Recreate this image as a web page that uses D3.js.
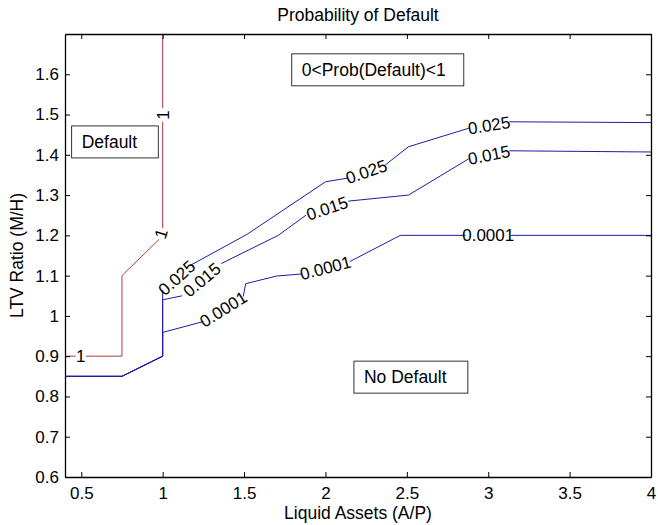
<!DOCTYPE html>
<html>
<head>
<meta charset="utf-8">
<script src="https://cdn.jsdelivr.net/npm/d3@7"></script>
<style>
  body { margin: 0; background: #fff; }
  svg text { font-family: "Liberation Sans", Arial, Helvetica, sans-serif; fill: #000; }
</style>
</head>
<body>
<svg id="chart" width="658" height="525"></svg>
<script>
// tick values
const xTicks = [0.5, 1, 1.5, 2, 2.5, 3, 3.5, 4];
const yTicks = [0.6, 0.7, 0.8, 0.9, 1, 1.1, 1.2, 1.3, 1.4, 1.5, 1.6];

// contour lines, each split into pieces; a label sits in every gap between pieces
const contour1 = [
    [[0.4, 0.9], [0.466, 0.9]],
    [[0.528, 0.9], [0.75, 0.9], [0.75, 1.1], [0.978, 1.19]],
    [[1.0, 1.218], [1.0, 1.482]],
    [[1.0, 1.516], [1.0, 1.7]]
];
const contour025 = [
    [[0.4, 0.85], [0.75, 0.85], [1.0, 0.9], [1.0, 1.064]],
    [[1.172, 1.126], [1.52, 1.203], [2.0, 1.333], [2.133, 1.342]],
    [[2.368, 1.375], [2.51, 1.42], [2.88, 1.466]],
    [[3.13, 1.482], [4.0, 1.48]]
];
const contour015 = [
    [[0.4, 0.85], [0.75, 0.85], [1.0, 0.9], [1.0, 1.04], [1.12, 1.05]],
    [[1.36, 1.13], [1.71, 1.2], [1.88, 1.25]],
    [[2.14, 1.285], [2.51, 1.3], [2.88, 1.39]],
    [[3.13, 1.41], [4.0, 1.407]]
];
const contour0001 = [
    [[0.4, 0.85], [0.75, 0.85], [1.0, 0.9], [1.0, 0.959], [1.25, 0.986]],
    [[1.495, 1.048], [1.51, 1.08], [1.7, 1.099], [1.85, 1.104]],
    [[2.15, 1.135], [2.46, 1.2], [2.86, 1.2]],
    [[3.14, 1.2], [4.0, 1.2]]
];
const contours = [
    { level: "1", pieces: contour1, color: "#b03a3a" },
    { level: "0.025", pieces: contour025, color: "#1c1ca6" },
    { level: "0.015", pieces: contour015, color: "#1c1ca6" },
    { level: "0.0001", pieces: contour0001, color: "#1c1ca6" }
];

// region annotations: [text, box left, box right, middle] in data units
const notes = [
    ["Default", 0.441, 0.973, 1.432],
    ["0<Prob(Default)<1", 1.793, 2.85, 1.611],
    ["No Default", 2.175, 2.875, 0.848]
];

const svg = d3.select("#chart");
const mLeft = 65, mRight = 651, mTop = 34, mBottom = 477;

const x = d3.scaleLinear().domain([0.4, 4]).range([mLeft, mRight]);
const y = d3.scaleLinear().domain([0.6, 1.7]).range([mBottom, mTop]);

const line = d3.line().x(d => x(d[0])).y(d => y(d[1]));

const plot = svg.append("g");

contours.forEach(c => {
    plot.selectAll(null)
        .data(c.pieces)
        .join("path")
        .attr("d", line)
        .attr("fill", "none")
        .attr("stroke", c.color)
        .attr("stroke-width", 1);

    // labels in the gaps
    for (let i = 0; i < c.pieces.length - 1; i++) {
        const a = c.pieces[i][c.pieces[i].length - 1];
        const b = c.pieces[i + 1][0];
        const ax = x(a[0]), ay = y(a[1]), bx = x(b[0]), by = y(b[1]);
        let ang = Math.atan2(by - ay, bx - ax) * 180 / Math.PI;
        if (ang > 90) ang -= 180;
        if (ang < -90) ang += 180;
        plot.append("text")
            .attr("transform", `translate(${(ax + bx) / 2},${(ay + by) / 2}) rotate(${ang})`)
            .attr("text-anchor", "middle")
            .attr("dy", "0.36em")
            .attr("font-size", 17)
            .text(c.level);
    }
});

// axes, ticks pointing inward on all four sides
const fmt = d => String(d);
svg.append("g")
    .attr("transform", `translate(0,${mBottom})`)
    .call(d3.axisBottom(x).tickValues(xTicks).tickFormat(fmt).tickSizeInner(-5).tickSizeOuter(0).tickPadding(10));
svg.append("g")
    .attr("transform", `translate(0,${mTop})`)
    .call(d3.axisTop(x).tickValues(xTicks).tickFormat("").tickSizeInner(-5).tickSizeOuter(0));
svg.append("g")
    .attr("transform", `translate(${mLeft},0)`)
    .call(d3.axisLeft(y).tickValues(yTicks).tickFormat(fmt).tickSizeInner(-5).tickSizeOuter(0).tickPadding(6));
svg.append("g")
    .attr("transform", `translate(${mRight},0)`)
    .call(d3.axisRight(y).tickValues(yTicks).tickFormat("").tickSizeInner(-5).tickSizeOuter(0));

svg.selectAll(".domain").attr("stroke", "#000").attr("stroke-width", 1.3);
svg.selectAll(".tick line").attr("stroke", "#000");
svg.selectAll(".tick text").attr("font-size", 17).attr("font-family", null);

// annotation boxes
notes.forEach(([label, x0, x1, ym]) => {
    svg.append("rect")
        .attr("x", x(x0))
        .attr("y", y(ym) - 16)
        .attr("width", x(x1) - x(x0))
        .attr("height", 32)
        .attr("fill", "#fff")
        .attr("stroke", "#000")
        .attr("stroke-width", 0.8);
    svg.append("text")
        .attr("x", x(x0) + 10)
        .attr("y", y(ym))
        .attr("dy", "0.36em")
        .attr("font-size", 17.5)
        .text(label);
});

// titles
svg.append("text")
    .attr("x", (mLeft + mRight) / 2)
    .attr("y", 21)
    .attr("text-anchor", "middle")
    .attr("font-size", 17.5)
    .text("Probability of Default");
svg.append("text")
    .attr("x", (mLeft + mRight) / 2)
    .attr("y", 519)
    .attr("text-anchor", "middle")
    .attr("font-size", 17.5)
    .text("Liquid Assets (A/P)");
svg.append("text")
    .attr("transform", `translate(23,${(mTop + mBottom) / 2}) rotate(-90)`)
    .attr("text-anchor", "middle")
    .attr("font-size", 17.5)
    .text("LTV Ratio (M/H)");
</script>
</body>
</html>
